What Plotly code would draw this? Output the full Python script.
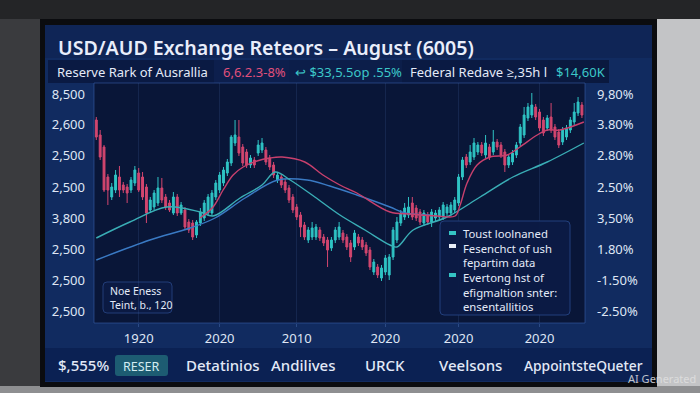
import plotly.graph_objects as go

# ---------------- data ----------------
opens = [698, 683, 671, 641, 621, 628, 641, 633, 631, 628,
         635, 645, 641, 631, 608, 611, 615, 630, 621, 615,
         605, 621, 605, 608, 596, 595, 583, 595, 600, 605,
         605, 621, 628, 635, 645, 655, 675, 681, 671, 666,
         653, 658, 665, 668, 668, 660, 653, 638, 641, 636,
         630, 621, 611, 603, 593, 578, 581, 581, 588, 581,
         578, 570, 578, 581, 585, 581, 575, 571, 581, 578,
         573, 568, 546, 551, 540, 546, 543, 561, 578, 595,
         601, 603, 615, 610, 606, 595, 603, 596, 600, 601,
         601, 605, 605, 608, 615, 641, 661, 656, 661, 666,
         673, 663, 671, 666, 676, 673, 666, 653, 656, 663,
         675, 683, 700, 703, 711, 706, 698, 690, 701, 691,
         686, 676, 681, 688, 696, 705, 713]
highs = [701, 688, 673, 644, 635, 648, 652, 636, 634, 641,
         652, 650, 646, 634, 621, 628, 641, 640, 624, 618,
         626, 624, 616, 611, 599, 598, 598, 610, 618, 624,
         628, 638, 646, 651, 659, 683, 698, 698, 674, 669,
         663, 661, 678, 680, 671, 663, 656, 646, 644, 639,
         633, 624, 614, 606, 596, 591, 596, 594, 591, 584,
         581, 581, 591, 596, 588, 584, 578, 588, 584, 581,
         576, 571, 559, 554, 553, 563, 564, 591, 601, 608,
         615, 621, 621, 613, 609, 608, 606, 609, 608, 611,
         616, 614, 616, 621, 644, 661, 664, 673, 680, 676,
         676, 683, 674, 688, 679, 676, 669, 664, 668, 676,
         694, 711, 715, 725, 714, 709, 701, 703, 715, 694,
         689, 691, 693, 701, 715, 721, 716]
lows = [678, 658, 626, 613, 618, 625, 621, 625, 615, 625,
        632, 626, 618, 595, 605, 608, 612, 615, 608, 606,
        603, 602, 603, 588, 585, 578, 580, 592, 597, 602,
        602, 618, 625, 632, 642, 652, 672, 662, 652, 650,
        650, 650, 662, 665, 653, 648, 640, 635, 630, 625,
        615, 605, 598, 581, 578, 575, 578, 578, 577, 572,
        551, 567, 575, 578, 575, 568, 556, 568, 572, 568,
        562, 548, 543, 540, 537, 543, 538, 558, 575, 592,
        598, 600, 598, 597, 593, 592, 593, 591, 597, 598,
        598, 602, 602, 605, 612, 638, 650, 653, 658, 663,
        662, 660, 658, 663, 668, 660, 646, 650, 653, 660,
        672, 680, 697, 700, 698, 687, 682, 687, 685, 678,
        670, 673, 678, 685, 693, 702, 700]
closes = [681, 661, 628, 628, 631, 643, 628, 628, 625, 638,
          648, 628, 621, 605, 618, 625, 630, 618, 611, 608,
          621, 605, 613, 591, 588, 581, 596, 606, 615, 621,
          625, 635, 643, 648, 656, 681, 683, 665, 655, 653,
          660, 653, 673, 675, 656, 651, 643, 643, 633, 628,
          618, 608, 601, 591, 581, 588, 590, 591, 580, 575,
          568, 578, 588, 591, 578, 571, 561, 585, 575, 571,
          565, 551, 556, 543, 550, 560, 561, 588, 596, 605,
          610, 611, 601, 600, 596, 605, 596, 606, 605, 608,
          613, 611, 613, 618, 641, 658, 653, 666, 675, 673,
          665, 675, 661, 676, 671, 663, 653, 661, 665, 673,
          691, 703, 711, 713, 701, 690, 685, 700, 688, 681,
          673, 688, 690, 698, 706, 716, 703]
days = list(range(len(closes)))

# moving-average style lines (day index, level)
ma_teal_x = [0, 8.7, 18.3, 26.9, 30.3, 37.3, 43.0, 46.4, 50.3, 56.7, 63.2, 69.7,
             76.2, 78.0, 82.2, 91.0, 99.6, 108.1, 117.0, 126.5]
ma_teal_y = [580, 596, 611, 606, 602, 620, 633, 646, 638, 621, 603, 588,
             573, 571, 588, 601, 621, 641, 656, 675]
ma_blue_x = [0, 13.9, 24.3, 30.8, 38.6, 47.1, 54.7, 60.6, 67.6, 76.2, 80.1, 86.6]
ma_blue_y = [558, 578, 590, 600, 620, 638, 638, 632, 623, 611, 605, 603]
ma_pink_x = [26.9, 30.3, 32.9, 35.5, 38.1, 41.7, 45.0, 48.2, 54.1, 58.8, 63.2, 67.6,
             76.2, 81.4, 88.4, 93.1, 94.4, 96.2, 98.8, 102.2, 106.6, 109.9, 114.4,
             117.0, 120.3, 126.5]
ma_pink_y = [600, 611, 628, 643, 651, 657, 660, 661, 656, 643, 633, 625,
             606, 604, 602, 602, 613, 635, 653, 661, 663, 671, 683,
             688, 688, 696]

x_tick_vals = [11, 32, 52, 75, 94, 115]
x_tick_text = ["1920", "2020", "2010", "2020", "2020", "2020"]
y_tick_vals = [507, 538, 569, 600, 631, 663, 694, 724]
y_left_text = ["2,500", "2,500", "2,500", "3,800", "2,500", "2,500", "2,600", "8,500"]
y_right_text = ["-2.50%", "-1.50%", "1.80%", "3,50%", "2.50%", "2.80%", "3.80%", "9,80%"]

title_text = "USD/AUD Exchange Reteors – August (6005)"
legend_lines = ["Toust loolnaned", "Fesenchct of ush", "fepartim data",
                "Evertong hst of", "efigmaltion snter:", "ensentallitios"]
note_lines = ["Noe Eness", "Teint, b., 120"]
bottom_items = ["$,555%", "RESER", "Detatinios", "Andilives", "URCK", "Veelsons", "AppointsteQueter"]

# ---------------- layout helpers ----------------
W, H = 700, 393
FONT = "Noto Sans, Open Sans, sans-serif"


def px(x):
    return x / W


def py(y):
    return 1 - y / H


shapes = []
annotations = []


def rect(x0, y0, x1, y1, fill, line=None, lw=0, layer="below"):
    shapes.append(dict(type="rect", xref="paper", yref="paper",
                       x0=px(x0), x1=px(x1), y0=py(y1), y1=py(y0),
                       fillcolor=fill, line=dict(width=lw, color=line or fill),
                       layer=layer))


def rrect(x0, y0, x1, y1, r, fill, line=None, lw=0, layer="below"):
    rx, ry = r / W, r / H
    X0, X1, Y0, Y1 = px(x0), px(x1), py(y1), py(y0)
    path = (f"M {X0+rx},{Y0} L {X1-rx},{Y0} Q {X1},{Y0} {X1},{Y0+ry} "
            f"L {X1},{Y1-ry} Q {X1},{Y1} {X1-rx},{Y1} L {X0+rx},{Y1} "
            f"Q {X0},{Y1} {X0},{Y1-ry} L {X0},{Y0+ry} Q {X0},{Y0} {X0+rx},{Y0} Z")
    shapes.append(dict(type="path", xref="paper", yref="paper", path=path,
                       fillcolor=fill, line=dict(width=lw, color=line or fill),
                       layer=layer))


def text(x, y, s, size=13, color="#e4eaf8", anchor="left", weight=400):
    annotations.append(dict(x=px(x), y=py(y), xref="paper", yref="paper", text=s,
                            showarrow=False, xanchor=anchor, yanchor="middle",
                            align="left",
                            font=dict(family=FONT, size=size, color=color, weight=weight)))


# background: room, bezel, screen
rect(0, 0, 40, 393, "#3a3b3e")
rect(656, 0, 700, 393, "#c3c4c6")
rect(0, 0, 700, 19, "#242527")
rect(0, 386, 700, 393, "#8e8f91")
rect(40, 19, 657, 387, "#0b0c0f")
rect(45, 25, 652, 382, "#112b60")
rect(45, 25, 652, 58, "#0f2556")
# sub-header bar
rect(48, 60, 609, 83, "#0a1a43")
rect(214, 60, 289, 83, "#0d1f4d")
rect(289, 60, 402, 83, "#0c1e4a")
rect(548, 60, 609, 83, "#0a193f")
# plot background
rect(94, 83, 585, 323, "#091638")
# bottom bar
rect(45, 348, 652, 381, "#0b2153")
rrect(115, 355, 168, 376, 3, "#1d5c72")
# small info box + legend box
rrect(103, 282, 172, 313, 4, "#0b1a43", "#223d78", 1)
rrect(440, 221, 570, 315, 4, "rgba(11,27,69,0.96)", "#223f7c", 1, layer="above")
# plot frame
rect(94, 83, 585, 323, "rgba(0,0,0,0)", "rgba(60,100,175,0.55)", 1, layer="above")
# legend markers
for yy, col in [(233, "#35c4c4"), (246, "#e8eef8"), (275, "#35c4c4")]:
    rect(449, yy - 2, 456, yy + 2, col, layer="above")

# texts
text(56, 47, title_text, size=19.6, color="#e9eefb", weight=600)
text(55, 72, "Reserve Rark of Ausrallia", size=13)
text(221, 72, "6,6.2.3-8%", size=13, color="#e0507c")
text(293, 72, "↩ $33,5.5op .55%", size=13, color="#3cc8c9")
text(408, 72, "Federal Redave ≥,35h l", size=13)
text(554, 72, "$14,60K", size=13, color="#3cc8c9")

text(108, 297.5, "<br>".join(note_lines), size=10.5)
text(461, 270, "<br>".join(legend_lines), size=11.3)

bx = [56, 141, 184, 269, 363, 437, 522]
for i, (x, s) in enumerate(zip(bx, bottom_items)):
    if s == "RESER":
        text(x, 366, s, size=12.5, color="#d3ecf1", anchor="center")
    else:
        text(x, 365, s, size=15 if i < 6 else 13.8, color="#e2e9f7", weight=500)

text(698, 378, "AI Generated", size=11, color="rgba(225,225,225,0.85)", anchor="right")

# ---------------- figure ----------------
fig = go.Figure()
fig.add_trace(go.Candlestick(
    x=days, open=opens, high=highs, low=lows, close=closes,
    increasing=dict(line=dict(color="#2fc3c4", width=1), fillcolor="#2fc3c4"),
    decreasing=dict(line=dict(color="#d2466f", width=1), fillcolor="#d2466f"),
    whiskerwidth=0, showlegend=False, hoverinfo="skip"))
fig.add_trace(go.Scatter(x=ma_blue_x, y=ma_blue_y, mode="lines",
                         line=dict(color="#3a7ac4", width=1.4, shape="spline"),
                         showlegend=False, hoverinfo="skip"))
fig.add_trace(go.Scatter(x=ma_teal_x, y=ma_teal_y, mode="lines",
                         line=dict(color="#3aaeb6", width=1.4, shape="spline"),
                         showlegend=False, hoverinfo="skip"))
fig.add_trace(go.Scatter(x=ma_pink_x, y=ma_pink_y, mode="lines",
                         line=dict(color="#c8406d", width=1.4, shape="spline"),
                         showlegend=False, hoverinfo="skip"))
fig.add_trace(go.Scatter(x=[days[0]], y=[closes[0]], yaxis="y2", mode="markers",
                         marker=dict(opacity=0), showlegend=False, hoverinfo="skip"))

yrange = [495, 735]
fig.update_layout(
    width=W, height=H, margin=dict(l=0, r=0, t=0, b=0),
    paper_bgcolor="#2c2d30", plot_bgcolor="rgba(0,0,0,0)",
    font=dict(family=FONT, color="#dfe6f4"),
    shapes=shapes, annotations=annotations, hovermode=False,
    xaxis=dict(domain=[px(94), px(585)], range=[-0.6, 126.8],
               tickvals=x_tick_vals, ticktext=x_tick_text,
               tickfont=dict(size=13, color="#dfe6f4"),
               showgrid=True, gridcolor="rgba(70,105,170,0.20)", gridwidth=1,
               zeroline=False, showline=False, ticks="outside", ticklen=3,
               tickcolor="rgba(70,105,170,0.5)",
               rangeslider=dict(visible=False), fixedrange=True),
    yaxis=dict(domain=[1 - 323 / H, 1 - 83 / H], range=yrange,
               tickvals=y_tick_vals, ticktext=y_left_text,
               tickfont=dict(size=13, color="#dfe6f4"),
               showgrid=False, zeroline=False, showline=False, ticks="",
               ticklabelstandoff=8, fixedrange=True),
    yaxis2=dict(overlaying="y", side="right", anchor="x", range=yrange,
                tickvals=y_tick_vals, ticktext=y_right_text,
                tickfont=dict(size=13, color="#dfe6f4"),
                showgrid=False, zeroline=False, showline=False, ticks="",
                ticklabelstandoff=11, fixedrange=True),
)

fig.write_html("out.html", config={"displayModeBar": False, "staticPlot": True},
               post_script="document.body.style.margin='0';document.body.style.overflow='hidden';")
